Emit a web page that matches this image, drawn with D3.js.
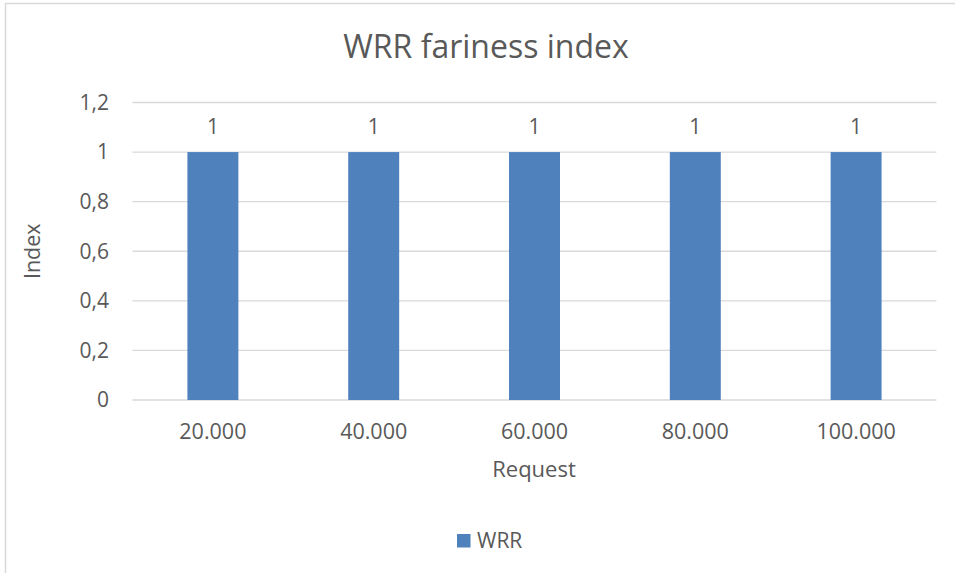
<!DOCTYPE html>
<html>
<head>
<meta charset="utf-8">
<script src="https://cdn.jsdelivr.net/npm/d3@7"></script>
<style>
  body { margin: 0; background: #fff; }
  text { font-family: "Open Sans", sans-serif; fill: #595959; }
</style>
</head>
<body>
<div id="app"></div>
<script>
const categories = ["20.000", "40.000", "60.000", "80.000", "100.000"];
const wrrValues = [1, 1, 1, 1, 1];
const yTicks = [0, 0.2, 0.4, 0.6, 0.8, 1, 1.2];
const seriesName = "WRR";

const width = 955;
const height = 573;
const margin = { top: 102.5, right: 18.5, bottom: 173, left: 132.5 };

const svg = d3.select('#app')
    .append('svg')
    .attr('width', width)
    .attr('height', height);

// chart frame (only left/top visible in the picture)
svg.append('rect')
    .attr('x', 5.5)
    .attr('y', 3.5)
    .attr('width', width + 20)
    .attr('height', height + 20)
    .attr('fill', 'none')
    .attr('stroke', '#d9d9d9')
    .attr('stroke-width', 1.5);

const x = d3.scaleBand()
    .domain(categories)
    .range([margin.left, width - margin.right])
    .padding(0);

const y = d3.scaleLinear()
    .domain([0, 1.2])
    .range([height - margin.bottom, margin.top]);

const fmt = v => d3.format('.1~f')(v).replace('.', ',');

// gridlines
svg.append('g')
    .selectAll('line')
    .data(yTicks)
    .enter()
    .append('line')
    .attr('x1', margin.left)
    .attr('x2', width - margin.right)
    .attr('y1', d => y(d))
    .attr('y2', d => y(d))
    .attr('stroke', '#d9d9d9')
    .attr('stroke-width', 1.3);

// y tick labels
svg.append('g')
    .selectAll('text')
    .data(yTicks)
    .enter()
    .append('text')
    .attr('x', 109)
    .attr('y', d => y(d))
    .attr('dy', '0.35em')
    .attr('text-anchor', 'end')
    .attr('font-size', 21)
    .text(d => fmt(d));

// bars
const barW = x.bandwidth() * 0.317;
svg.append('g')
    .selectAll('rect')
    .data(wrrValues)
    .enter()
    .append('rect')
    .attr('x', (d, i) => x(categories[i]) + (x.bandwidth() - barW) / 2)
    .attr('y', d => y(d))
    .attr('width', barW)
    .attr('height', d => y(0) - y(d))
    .attr('fill', '#4f81bd');

// data labels
svg.append('g')
    .selectAll('text')
    .data(wrrValues)
    .enter()
    .append('text')
    .attr('x', (d, i) => x(categories[i]) + x.bandwidth() / 2)
    .attr('y', d => y(d) - 18)
    .attr('text-anchor', 'middle')
    .attr('font-size', 21)
    .attr('fill', '#404040')
    .text(d => fmt(d));

// x tick labels
svg.append('g')
    .selectAll('text')
    .data(categories)
    .enter()
    .append('text')
    .attr('x', d => x(d) + x.bandwidth() / 2)
    .attr('y', 438.5)
    .attr('text-anchor', 'middle')
    .attr('font-size', 21.5)
    .text(d => d);

// title
svg.append('text')
    .attr('x', 486)
    .attr('y', 58)
    .attr('text-anchor', 'middle')
    .attr('font-size', 32)
    .text('WRR fariness index');

// axis titles
svg.append('text')
    .attr('x', 534)
    .attr('y', 477)
    .attr('text-anchor', 'middle')
    .attr('font-size', 22)
    .text('Request');

svg.append('text')
    .attr('transform', 'translate(40,' + y(0.6) + ') rotate(-90)')
    .attr('text-anchor', 'middle')
    .attr('font-size', 21.5)
    .text('Index');

// legend
const legend = svg.append('g').attr('transform', 'translate(457,534)');
legend.append('rect')
    .attr('width', 13.5)
    .attr('height', 13.5)
    .attr('fill', '#4f81bd');
legend.append('text')
    .attr('x', 20)
    .attr('y', 13.5)
    .attr('font-size', 21)
    .text(seriesName);
</script>
</body>
</html>
